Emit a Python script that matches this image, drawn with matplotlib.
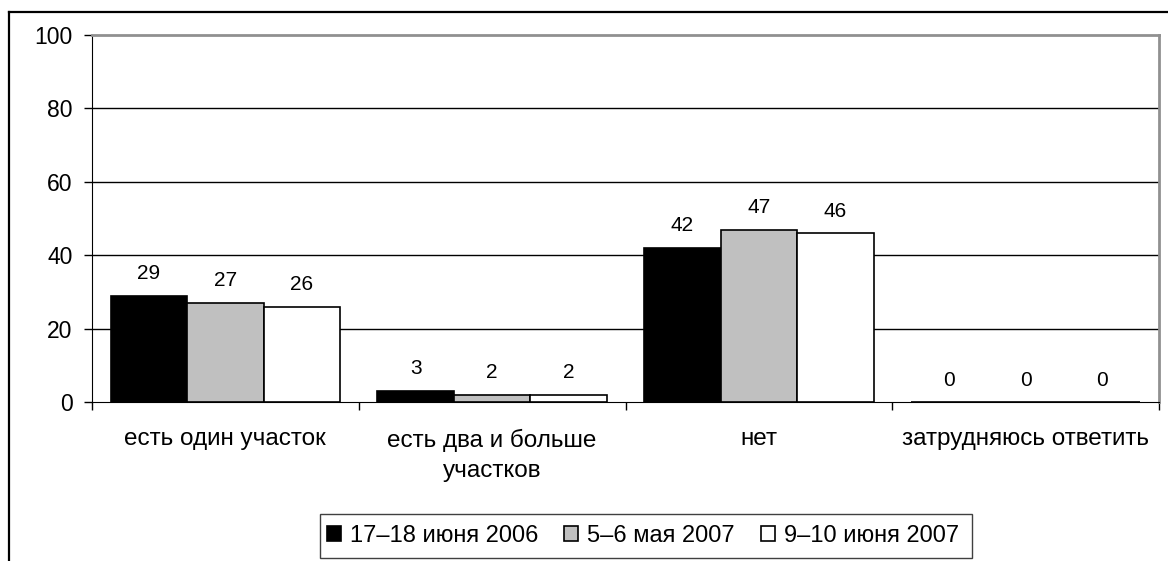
import matplotlib
matplotlib.use("Agg")
import matplotlib.pyplot as plt
from matplotlib.lines import Line2D
from matplotlib.patches import Rectangle
import numpy as np

plt.rcParams["font.family"] = ["Liberation Sans", "DejaVu Sans"]

categories = ["есть один участок", "есть два и больше\nучастков", "нет", "затрудняюсь ответить"]
series_names = ["17–18 июня 2006", "5–6 мая 2007", "9–10 июня 2007"]
v_2006_06 = [29, 3, 42, 0]
v_2007_05 = [27, 2, 47, 0]
v_2007_06 = [26, 2, 46, 0]
y_ticks = [0, 20, 40, 60, 80, 100]

series = [v_2006_06, v_2007_05, v_2007_06]
colors = ["#000000", "#c0c0c0", "#ffffff"]

W, H = 1168, 561
fig = plt.figure(figsize=(W / 100, H / 100), dpi=100)
ax = fig.add_axes([92 / W, 1 - 402 / H, (1159 - 92) / W, (402 - 35) / H])

x = np.arange(len(categories))
w = 0.287
for i, (vals, c, name) in enumerate(zip(series, colors, series_names)):
    bars = ax.bar(x + (i - 1) * w, vals, w, color=c, edgecolor="black", lw=1.2,
                  label=name, zorder=3)
    ax.bar_label(bars, labels=[str(v) for v in vals], padding=9, fontsize=15)

ax.set_xlim(-0.5, len(categories) - 0.5)
ax.set_ylim(0, 100)
ax.set_yticks(y_ticks)
ax.set_yticklabels([str(t) for t in y_ticks], fontsize=16.5)
ax.tick_params(axis="y", direction="out", length=6, width=1, pad=8)
for t in y_ticks[1:-1]:
    ax.axhline(t, color="black", lw=1.0, zorder=1)

# category ticks sit on the boundaries, labels in the middle
ax.set_xticks(np.arange(len(categories) + 1) - 0.5)
ax.set_xticklabels([])
ax.tick_params(axis="x", direction="out", length=6, width=1)
ax.set_xticks(x, minor=True)
ax.set_xticklabels(categories, minor=True, fontsize=17.5, linespacing=1.5)
ax.tick_params(axis="x", which="minor", length=0, pad=19)

ax.spines["left"].set_color("black")
ax.spines["bottom"].set_color("black")
ax.spines["top"].set_color("#909090")
ax.spines["right"].set_color("#909090")
ax.spines["top"].set_linewidth(2)
ax.spines["right"].set_linewidth(2)

fig.legend(loc="center", bbox_to_anchor=(643 / W, 1 - 536 / H), ncol=3,
           fontsize=17, frameon=False,
           handlelength=0.6, handleheight=0.6, handletextpad=0.38,
           columnspacing=1.1, borderpad=0, borderaxespad=0)
# legend frame drawn by hand (wider padding vertically than horizontally)
fig.add_artist(Rectangle((320 / W, 1 - 558 / H), (972 - 320) / W, (558 - 514) / H,
                         transform=fig.transFigure, fill=False, ec="#404040", lw=1.0))

# outer chart frame (only its left and top edges are in view)
fig.add_artist(Line2D([9 / W, 9 / W], [0, 1 - 12 / H], color="black", lw=1.6))
fig.add_artist(Line2D([9 / W, 1], [1 - 12 / H, 1 - 12 / H], color="black", lw=1.6))

fig.savefig("out.png", dpi=100)
